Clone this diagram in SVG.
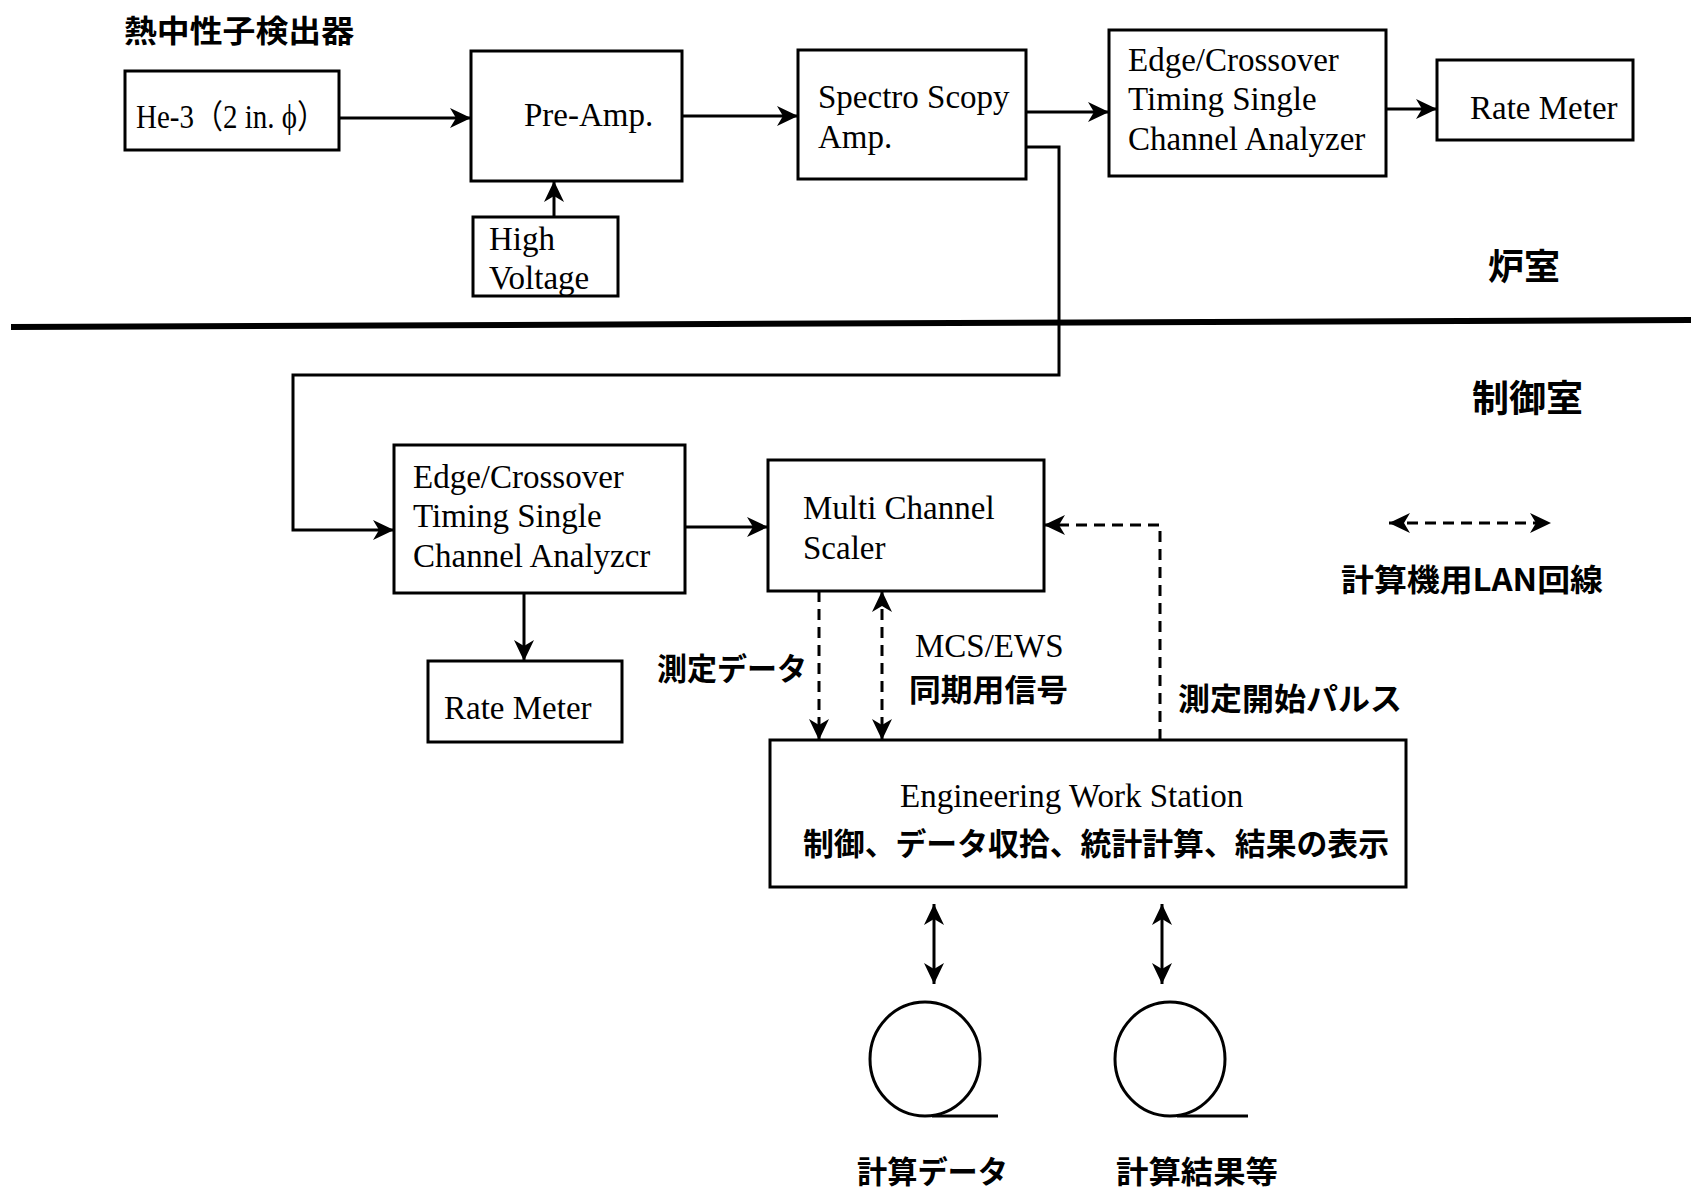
<svg xmlns="http://www.w3.org/2000/svg" width="1691" height="1193" viewBox="0 0 1691 1193">
<style>
.box{fill:#fff;stroke:#000;stroke-width:3}
.en{font-family:"Liberation Serif","Noto Sans CJK JP",serif;font-size:33px;fill:#000}
.jp{font-family:"Noto Sans CJK JP",sans-serif;font-weight:700;font-size:31px;fill:#000}
.wire{fill:none;stroke:#000;stroke-width:3}
.dash{stroke-dasharray:11 7}
</style>
<defs>
<marker id="ah" markerWidth="22" markerHeight="20" refX="21" refY="10" orient="auto-start-reverse" markerUnits="userSpaceOnUse">
<path d="M0,0 L21,10 L0,20 L6,10 Z" fill="#000"/>
</marker>
</defs>
<rect width="1691" height="1193" fill="#fff"/>
<text class="jp" x="124" y="42" textLength="230" lengthAdjust="spacingAndGlyphs">熱中性子検出器</text>
<text class="jp" x="1488" y="280" style="font-size:36px">炉室</text>
<text class="jp" x="1472" y="412" style="font-size:37px">制御室</text>
<line x1="11" y1="327" x2="1691" y2="320" stroke="#000" stroke-width="6"/>

<g id="connectors">
<path class="wire" d="M339,118 H471" marker-end="url(#ah)"/>
<path class="wire" d="M554,217 V181" marker-end="url(#ah)"/>
<path class="wire" d="M682,116 H798" marker-end="url(#ah)"/>
<path class="wire" d="M1026,112 H1109" marker-end="url(#ah)"/>
<path class="wire" d="M1386,109 H1437" marker-end="url(#ah)"/>
<path class="wire" d="M1026,147 H1059 V375 H293 V530 H394" marker-end="url(#ah)"/>
<path class="wire" d="M685,527 H768" marker-end="url(#ah)"/>
<path class="wire" d="M524,593 V661" marker-end="url(#ah)"/>
<path class="wire dash" d="M819,591 V740" marker-end="url(#ah)"/>
<path class="wire dash" d="M882,591 V740" marker-start="url(#ah)" marker-end="url(#ah)"/>
<path class="wire dash" d="M1160,740 V525 H1044" marker-end="url(#ah)"/>
<path class="wire dash" d="M1389,523 H1551" marker-start="url(#ah)" marker-end="url(#ah)"/>
<path class="wire" d="M934,904 V984" marker-start="url(#ah)" marker-end="url(#ah)"/>
<path class="wire" d="M1162,904 V984" marker-start="url(#ah)" marker-end="url(#ah)"/>
</g>

<g id="he3">
<rect class="box" x="125" y="71" width="214" height="79"/>
<text class="en" x="136" y="128" textLength="190" lengthAdjust="spacingAndGlyphs">He-3（2 in. ϕ）</text>
</g>
<g id="preamp">
<rect class="box" x="471" y="51" width="211" height="130"/>
<text class="en" x="524" y="126">Pre-Amp.</text>
</g>
<g id="hv">
<rect class="box" x="473" y="217" width="145" height="79"/>
<text class="en" x="489" y="250">High</text>
<text class="en" x="489" y="289">Voltage</text>
</g>
<g id="spectro">
<rect class="box" x="798" y="50" width="228" height="129"/>
<text class="en" x="818" y="108">Spectro Scopy</text>
<text class="en" x="818" y="148">Amp.</text>
</g>
<g id="sca1">
<rect class="box" x="1109" y="30" width="277" height="146"/>
<text class="en" x="1128" y="71">Edge/Crossover</text>
<text class="en" x="1128" y="110">Timing Single</text>
<text class="en" x="1128" y="150">Channel Analyzer</text>
</g>
<g id="rate1">
<rect class="box" x="1437" y="60" width="196" height="80"/>
<text class="en" x="1470" y="119">Rate Meter</text>
</g>
<g id="sca2">
<rect class="box" x="394" y="445" width="291" height="148"/>
<text class="en" x="413" y="488">Edge/Crossover</text>
<text class="en" x="413" y="527">Timing Single</text>
<text class="en" x="413" y="567">Channel Analyzcr</text>
</g>
<g id="mcs">
<rect class="box" x="768" y="460" width="276" height="131"/>
<text class="en" x="803" y="519">Multi Channel</text>
<text class="en" x="803" y="559">Scaler</text>
</g>
<g id="rate2">
<rect class="box" x="428" y="661" width="194" height="81"/>
<text class="en" x="444" y="719">Rate Meter</text>
</g>
<g id="ews">
<rect class="box" x="770" y="740" width="636" height="147"/>
<text class="en" x="900" y="807">Engineering Work Station</text>
<text class="jp" x="803" y="855" textLength="586" lengthAdjust="spacingAndGlyphs">制御、データ収拾、統計計算、結果の表示</text>
</g>
<g id="tape1">
<ellipse cx="925" cy="1059" rx="55" ry="57" fill="none" stroke="#000" stroke-width="3"/>
<path class="wire" d="M932,1116 H998"/>
<text class="jp" x="857" y="1183" textLength="151" lengthAdjust="spacingAndGlyphs">計算データ</text>
</g>
<g id="tape2">
<ellipse cx="1170" cy="1059" rx="55" ry="57" fill="none" stroke="#000" stroke-width="3"/>
<path class="wire" d="M1177,1116 H1248"/>
<text class="jp" x="1116" y="1183" textLength="162" lengthAdjust="spacingAndGlyphs">計算結果等</text>
</g>
<g id="labels">
<text class="jp" x="657" y="680" textLength="150" lengthAdjust="spacingAndGlyphs">測定データ</text>
<text class="en" x="915" y="657">MCS/EWS</text>
<text class="jp" x="909" y="701" textLength="159" lengthAdjust="spacingAndGlyphs">同期用信号</text>
<text class="jp" x="1178" y="710" textLength="224" lengthAdjust="spacingAndGlyphs">測定開始パルス</text>
<text class="jp" x="1341" y="591" textLength="262" lengthAdjust="spacingAndGlyphs">計算機用LAN回線</text>
</g>
</svg>
